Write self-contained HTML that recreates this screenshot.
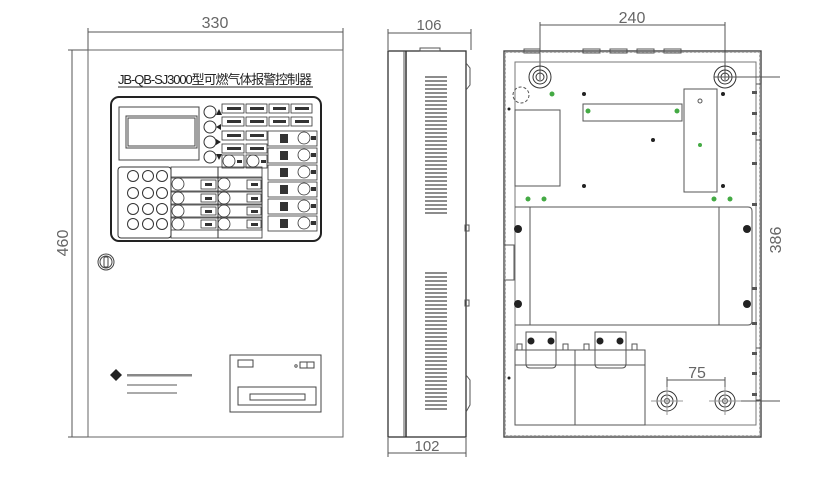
<!DOCTYPE html>
<html><head><meta charset="utf-8"><style>
html,body{margin:0;padding:0;background:#fff;width:840px;height:480px;overflow:hidden}
svg{display:block}
text{font-family:"Liberation Sans","Noto Sans CJK SC",sans-serif}
</style></head><body>
<svg width="840" height="480" viewBox="0 0 840 480" xmlns="http://www.w3.org/2000/svg" fill="none" stroke="#555" stroke-width="1">
<!-- ===== FRONT VIEW ===== -->
<line x1="88" y1="32" x2="343" y2="32"/>
<line x1="88" y1="28" x2="88" y2="50"/><line x1="343" y1="28" x2="343" y2="50"/>
<text x="215" y="28" font-size="16" fill="#666" stroke="none" text-anchor="middle">330</text>
<line x1="72" y1="50" x2="72" y2="437"/>
<line x1="68" y1="50" x2="88" y2="50"/><line x1="68" y1="437" x2="88" y2="437"/>
<text x="0" y="0" font-size="16" fill="#666" stroke="none" text-anchor="middle" transform="translate(68,243) rotate(-90)">460</text>
<rect x="88" y="50" width="255" height="387" stroke="#666"/>
<text x="215" y="84" font-size="13" fill="#222" stroke="none" text-anchor="middle" textLength="194">JB-QB-SJ3000型可燃气体报警控制器</text>
<line x1="118" y1="87" x2="313" y2="87" stroke="#222"/>
<rect x="111" y="97" width="210" height="144" rx="8" stroke="#222" stroke-width="2"/>
<rect x="119" y="107" width="80" height="53" stroke="#444"/>
<rect x="126" y="116" width="71" height="32" stroke="#444"/>
<rect x="128" y="118" width="67" height="28" stroke="#444"/>
<g stroke="#333">
<circle cx="210" cy="112" r="6"/><circle cx="210" cy="127" r="6"/><circle cx="210" cy="142" r="6"/><circle cx="210" cy="157" r="6"/>
</g>
<g fill="#222" stroke="none">
<path d="M216 115 L222 115 L219 109Z"/><path d="M216 127 L221 124 L221 130Z"/><path d="M216 139 L216 145 L221 142Z"/><path d="M216 154 L222 154 L219 160Z"/>
</g>
<g stroke="#333" stroke-width="0.8">
<rect x="222" y="104" width="22" height="9"/><rect x="246" y="104" width="21" height="9"/><rect x="269" y="104" width="20" height="9"/><rect x="291" y="104" width="21" height="9"/>
<rect x="222" y="117" width="22" height="9"/><rect x="246" y="117" width="21" height="9"/><rect x="269" y="117" width="20" height="9"/><rect x="291" y="117" width="21" height="9"/>
<rect x="222" y="131" width="22" height="9"/><rect x="246" y="131" width="21" height="9"/>
<rect x="222" y="144" width="22" height="9"/><rect x="246" y="144" width="21" height="9"/>
<rect x="222" y="155" width="22" height="13"/><rect x="246" y="155" width="21" height="13"/>
<circle cx="229" cy="161" r="6"/><circle cx="253" cy="161" r="6"/>
</g>
<g fill="#333" stroke="none">
<rect x="227" y="107" width="14" height="3"/><rect x="250" y="107" width="14" height="3"/><rect x="273" y="107" width="13" height="3"/><rect x="295" y="107" width="14" height="3"/>
<rect x="227" y="120" width="14" height="3"/><rect x="250" y="120" width="14" height="3"/><rect x="273" y="120" width="13" height="3"/><rect x="295" y="120" width="14" height="3"/>
<rect x="227" y="134" width="14" height="3"/><rect x="250" y="134" width="14" height="3"/>
<rect x="227" y="147" width="14" height="3"/><rect x="250" y="147" width="14" height="3"/>
<rect x="237" y="160" width="5" height="3"/><rect x="261" y="160" width="5" height="3"/>
</g>
<g stroke="#333" stroke-width="0.8">
<rect x="268" y="131" width="49" height="15"/><circle cx="304" cy="138" r="6"/>
<rect x="268" y="148" width="49" height="15"/><circle cx="304" cy="155" r="6"/>
<rect x="268" y="165" width="49" height="15"/><circle cx="304" cy="172" r="6"/>
<rect x="268" y="182" width="49" height="15"/><circle cx="304" cy="189" r="6"/>
<rect x="268" y="199" width="49" height="15"/><circle cx="304" cy="206" r="6"/>
<rect x="268" y="216" width="49" height="15"/><circle cx="304" cy="223" r="6"/>
</g>
<g fill="#333" stroke="none">
<rect x="280" y="134" width="8" height="9"/><rect x="311" y="136" width="5" height="4"/>
<rect x="280" y="151" width="8" height="9"/><rect x="311" y="153" width="5" height="4"/>
<rect x="280" y="168" width="8" height="9"/><rect x="311" y="170" width="5" height="4"/>
<rect x="280" y="185" width="8" height="9"/><rect x="311" y="187" width="5" height="4"/>
<rect x="280" y="202" width="8" height="9"/><rect x="311" y="204" width="5" height="4"/>
<rect x="280" y="219" width="8" height="9"/><rect x="311" y="221" width="5" height="4"/>
</g>
<rect x="118" y="167" width="53" height="71" rx="3" stroke="#333"/>
<g stroke="#333">
<circle cx="133" cy="176" r="5.5"/><circle cx="148" cy="176" r="5.5"/><circle cx="162" cy="176" r="5.5"/>
<circle cx="133" cy="193" r="5.5"/><circle cx="148" cy="193" r="5.5"/><circle cx="162" cy="193" r="5.5"/>
<circle cx="133" cy="209" r="5.5"/><circle cx="148" cy="209" r="5.5"/><circle cx="162" cy="209" r="5.5"/>
<circle cx="133" cy="224" r="5.5"/><circle cx="148" cy="224" r="5.5"/><circle cx="162" cy="224" r="5.5"/>
</g>
<rect x="171" y="167" width="91" height="71" stroke="#333" stroke-width="0.8"/>
<line x1="218" y1="167" x2="218" y2="238" stroke="#333"/>
<line x1="171" y1="177" x2="262" y2="177" stroke="#333" stroke-width="0.8"/>
<g stroke="#333" stroke-width="0.8">
<rect x="171" y="178" width="47" height="13"/><rect x="218" y="178" width="44" height="13"/>
<rect x="171" y="192" width="47" height="12"/><rect x="218" y="192" width="44" height="12"/>
<rect x="171" y="205" width="47" height="12"/><rect x="218" y="205" width="44" height="12"/>
<rect x="171" y="218" width="47" height="12"/><rect x="218" y="218" width="44" height="12"/>
<circle cx="178" cy="184" r="6"/><circle cx="224" cy="184" r="6"/>
<circle cx="178" cy="198" r="6"/><circle cx="224" cy="198" r="6"/>
<circle cx="178" cy="211" r="6"/><circle cx="224" cy="211" r="6"/>
<circle cx="178" cy="224" r="6"/><circle cx="224" cy="224" r="6"/>
<rect x="201" y="180" width="15" height="9"/><rect x="247" y="180" width="14" height="9"/>
<rect x="201" y="194" width="15" height="8"/><rect x="247" y="194" width="14" height="8"/>
<rect x="201" y="207" width="15" height="8"/><rect x="247" y="207" width="14" height="8"/>
<rect x="201" y="220" width="15" height="8"/><rect x="247" y="220" width="14" height="8"/>
</g>
<g fill="#333" stroke="none">
<rect x="205" y="183" width="7" height="3"/><rect x="251" y="183" width="7" height="3"/>
<rect x="205" y="197" width="7" height="3"/><rect x="251" y="197" width="7" height="3"/>
<rect x="205" y="210" width="7" height="3"/><rect x="251" y="210" width="7" height="3"/>
<rect x="205" y="223" width="7" height="3"/><rect x="251" y="223" width="7" height="3"/>
</g>
<circle cx="106" cy="262" r="8" stroke="#444"/><circle cx="106" cy="262" r="6" stroke="#444"/>
<rect x="104" y="257" width="4" height="10" rx="1" stroke="#444"/>
<path d="M110 375 L116 369 L122 375 L116 381Z" fill="#222" stroke="none"/>
<rect x="127" y="374" width="65" height="2.5" fill="#888" stroke="none"/>
<rect x="127" y="384" width="50" height="2" fill="#aaa" stroke="none"/>
<rect x="127" y="392" width="50" height="2" fill="#aaa" stroke="none"/>
<rect x="230" y="355" width="91" height="57" stroke="#444"/>
<rect x="238" y="360" width="15" height="7" stroke="#444"/>
<rect x="300" y="362" width="14" height="6" stroke="#444"/><line x1="307" y1="362" x2="307" y2="368"/>
<circle cx="296" cy="366" r="1.2"/>
<rect x="238" y="387" width="78" height="18" stroke="#444"/>
<rect x="250" y="394" width="55" height="6" stroke="#444"/>
<!-- ===== SIDE VIEW ===== -->
<line x1="388" y1="33" x2="471" y2="33"/><line x1="388" y1="29" x2="388" y2="50"/><line x1="471" y1="29" x2="471" y2="50"/>
<text x="429" y="30" font-size="15" fill="#666" stroke="none" text-anchor="middle">106</text>
<line x1="388" y1="453" x2="466" y2="453"/><line x1="388" y1="438" x2="388" y2="457"/><line x1="466" y1="438" x2="466" y2="457"/>
<text x="427" y="451" font-size="15" fill="#666" stroke="none" text-anchor="middle">102</text>
<rect x="388" y="51" width="78" height="386" stroke="#333" stroke-width="1.3"/>
<line x1="406" y1="51" x2="406" y2="437" stroke="#333" stroke-width="1.5"/>
<line x1="404" y1="51" x2="404" y2="437"/>
<rect x="420" y="48" width="20" height="3"/>
<path d="M466 63 L470 68 L470 85 L466 90"/><path d="M466 375 L470 380 L470 405 L466 412"/>
<rect x="465" y="225" width="4" height="6"/><rect x="465" y="300" width="4" height="6"/>
<g stroke="#666" stroke-width="1.4">
<path d="M425 77H447M425 81H447M425 85H447M425 89H447M425 93H447M425 97H447M425 101H447M425 105H447M425 109H447M425 113H447M425 117H447M425 121H447M425 125H447M425 129H447M425 133H447M425 137H447M425 141H447M425 145H447M425 149H447M425 153H447M425 157H447M425 161H447M425 165H447M425 169H447M425 173H447M425 177H447M425 181H447M425 185H447M425 189H447M425 193H447M425 197H447M425 201H447M425 205H447M425 209H447M425 213H447"/>
<path d="M425 273H447M425 277H447M425 281H447M425 285H447M425 289H447M425 293H447M425 297H447M425 301H447M425 305H447M425 309H447M425 313H447M425 317H447M425 321H447M425 325H447M425 329H447M425 333H447M425 337H447M425 341H447M425 345H447M425 349H447M425 353H447M425 357H447M425 361H447M425 365H447M425 369H447M425 373H447M425 377H447M425 381H447M425 385H447M425 389H447M425 393H447M425 397H447M425 401H447M425 405H447M425 409H447"/>
</g>
<!-- ===== BACK VIEW ===== -->
<line x1="540" y1="25" x2="725" y2="25"/><line x1="540" y1="22" x2="540" y2="80"/><line x1="725" y1="22" x2="725" y2="80"/>
<text x="632" y="23" font-size="16" fill="#666" stroke="none" text-anchor="middle">240</text>
<rect x="504" y="51" width="257" height="386" stroke="#444" stroke-width="1.4"/>
<rect x="505.5" y="52.5" width="254" height="383" stroke="#999" stroke-width="0.8" stroke-dasharray="3 1"/>
<rect x="515" y="62" width="241" height="363" stroke="#777"/>
<rect x="524" y="49" width="16" height="4"/><rect x="583" y="49" width="17" height="4"/><rect x="610" y="49" width="17" height="4"/><rect x="637" y="49" width="17" height="4"/><rect x="664" y="49" width="17" height="4"/>
<g stroke="#333">
<circle cx="540" cy="77" r="11"/><circle cx="540" cy="77" r="7"/><circle cx="540" cy="77" r="4"/>
<circle cx="725" cy="77" r="11"/><circle cx="725" cy="77" r="7"/><circle cx="725" cy="77" r="4"/>
</g>
<line x1="714" y1="77" x2="780" y2="77"/>
<line x1="725" y1="401" x2="780" y2="401"/>
<text x="0" y="0" font-size="16" fill="#666" stroke="none" text-anchor="middle" transform="translate(781,240) rotate(-90)">386</text>
<circle cx="521" cy="95" r="8" stroke-dasharray="3 2"/>
<rect x="515" y="110" width="45" height="76"/>
<rect x="583" y="104" width="99" height="17"/>
<rect x="684" y="89" width="33" height="103"/>
<circle cx="700" cy="101" r="2"/>
<g fill="#4a4" stroke="none">
<circle cx="552" cy="94" r="2.5"/><circle cx="588" cy="111" r="2.5"/><circle cx="677" cy="111" r="2.5"/><circle cx="700" cy="145" r="2"/>
<circle cx="528" cy="199" r="2.5"/><circle cx="544" cy="199" r="2.5"/><circle cx="714" cy="199" r="2.5"/><circle cx="730" cy="199" r="2.5"/>
</g>
<g fill="#222" stroke="none">
<circle cx="584" cy="94" r="2"/><circle cx="653" cy="140" r="2"/><circle cx="584" cy="186" r="2"/><circle cx="723" cy="94" r="2"/><circle cx="723" cy="186" r="2"/>
<circle cx="518" cy="229" r="4"/><circle cx="518" cy="304" r="4"/><circle cx="747" cy="229" r="4"/><circle cx="747" cy="304" r="4"/>
<circle cx="531" cy="341" r="3.5"/><circle cx="551" cy="341" r="3.5"/><circle cx="600" cy="341" r="3.5"/><circle cx="620" cy="341" r="3.5"/>
<circle cx="509" cy="109" r="1.5"/><circle cx="509" cy="378" r="1.5"/>
</g>
<path d="M515 207 H748 Q752 207 752 211 V321 Q752 325 748 325 H515"/>
<line x1="530" y1="207" x2="530" y2="325"/><line x1="719" y1="207" x2="719" y2="325"/>
<rect x="504" y="245" width="10" height="35"/>
<path d="M526 350 V332 H556 V350"/><path d="M526 350 V364 Q526 368 530 368 H552 Q556 368 556 364 V350"/>
<path d="M595 350 V332 H626 V350"/><path d="M595 350 V364 Q595 368 599 368 H622 Q626 368 626 364 V350"/>
<rect x="515" y="350" width="60" height="75"/><rect x="575" y="350" width="70" height="75"/>
<line x1="515" y1="365" x2="645" y2="365"/>
<rect x="517" y="344" width="5" height="6"/><rect x="563" y="344" width="5" height="6"/><rect x="584" y="344" width="5" height="6"/><rect x="632" y="344" width="5" height="6"/>
<path d="M756 84 L761 84 L761 140 L756 140"/><path d="M756 348 L761 348 L761 400 L756 400"/>
<g fill="#555" stroke="none">
<rect x="752" y="91" width="5" height="3"/><rect x="752" y="112" width="5" height="3"/><rect x="752" y="132" width="5" height="3"/><rect x="752" y="162" width="5" height="3"/><rect x="752" y="203" width="5" height="3"/><rect x="752" y="287" width="5" height="3"/><rect x="752" y="322" width="5" height="3"/><rect x="752" y="352" width="5" height="3"/><rect x="752" y="372" width="5" height="3"/><rect x="752" y="393" width="5" height="3"/>
</g>
<line x1="667" y1="380" x2="725" y2="380"/><line x1="667" y1="377" x2="667" y2="395"/><line x1="725" y1="377" x2="725" y2="395"/>
<text x="697" y="378" font-size="16" fill="#666" stroke="none" text-anchor="middle">75</text>
<g stroke="#333">
<circle cx="667" cy="401" r="10"/><circle cx="667" cy="401" r="6"/><circle cx="667" cy="401" r="2.5"/>
<circle cx="725" cy="401" r="10"/><circle cx="725" cy="401" r="6"/><circle cx="725" cy="401" r="2.5"/>
</g>
<line x1="651" y1="401" x2="683" y2="401" stroke="#999"/><line x1="667" y1="387" x2="667" y2="415" stroke="#999"/>
<line x1="709" y1="401" x2="741" y2="401" stroke="#999"/><line x1="725" y1="387" x2="725" y2="415" stroke="#999"/>
</svg>
</body></html>
